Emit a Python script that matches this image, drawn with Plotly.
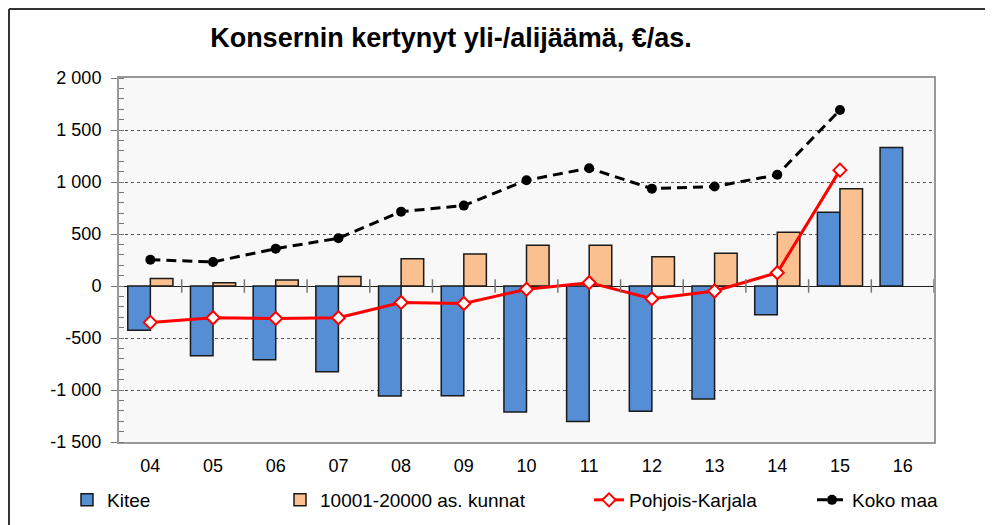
import plotly.graph_objects as go

years = ["04", "05", "06", "07", "08", "09", "10", "11", "12", "13", "14", "15", "16"]
kitee = [-425, -671, -710, -825, -1057, -1055, -1211, -1304, -1204, -1086, -276, 709, 1331]
kunnat = [73, 31, 57, 92, 262, 307, 391, 391, 282, 315, 516, 936, None]
pk = [-350, -305, -312, -305, -158, -168, -32, 32, -122, -48, 128, 1114, None]
koko = [253, 231, 359, 459, 715, 773, 1017, 1133, 936, 956, 1069, 1692, None]

y_tickvals = [-1500, -1000, -500, 0, 500, 1000, 1500, 2000]
y_ticktext = ["-1 500", "-1 000", "-500", "0", "500", "1 000", "1 500", "2 000"]

FONT = "Arial, Liberation Sans, sans-serif"
OFF = 8  # page body margin
W, H = 993 - OFF, 525 - OFF
L, R, T, B = 119 - OFF, 993 - 934, 78 - OFF, 525 - 442
pw, ph = W - L - R, H - T - B


def page_x(p):
    return (p - OFF) / W


def page_y(p):
    return 1 - (p - OFF) / H


def px2x(p):
    return (p - OFF - L) / pw


def py2y(p):
    return (H - B - (p - OFF)) / ph


fig = go.Figure()
fig.add_trace(go.Bar(x=years, y=kitee, name="Kitee", showlegend=True,
                     marker=dict(color="#558ED5", line=dict(color="#1a1a1a", width=1.5)),
                     legend="legend"))
fig.add_trace(go.Bar(x=years, y=kunnat, name="10001-20000 as. kunnat", showlegend=True,
                     marker=dict(color="#FAC090", line=dict(color="#1a1a1a", width=1.5)),
                     legend="legend2"))
fig.add_trace(go.Scatter(x=years, y=pk, name="Pohjois-Karjala", mode="lines+markers",
                         showlegend=True,
                         line=dict(color="#FF0000", width=3),
                         marker=dict(symbol="diamond", size=10, color="white",
                                     line=dict(color="#FF0000", width=2)),
                         legend="legend3"))
fig.add_trace(go.Scatter(x=years, y=koko, name="Koko maa", mode="lines+markers",
                         showlegend=True,
                         line=dict(color="black", width=3, dash="10px,6px"),
                         marker=dict(symbol="circle", size=10, color="black"),
                         legend="legend4"))

shapes = []
# category boundary ticks on the zero line
for i in range(len(years)):
    shapes.append(dict(type="line", xref="x", yref="y", x0=i + 0.5, x1=i + 0.5,
                       y0=-65, y1=65, line=dict(color="#777777", width=1.5)))
# outer frame (left and top edges)
shapes.append(dict(type="line", xref="paper", yref="paper",
                   x0=px2x(9), x1=px2x(9), y0=py2y(9), y1=py2y(540),
                   line=dict(color="#333333", width=2)))
shapes.append(dict(type="line", xref="paper", yref="paper",
                   x0=px2x(9), x1=px2x(1010), y0=py2y(9), y1=py2y(9),
                   line=dict(color="#333333", width=2)))

legend_common = dict(orientation="h", xref="container", yref="container",
                     yanchor="middle", y=page_y(500), xanchor="left",
                     font=dict(family=FONT, size=19, color="black"),
                     bgcolor="rgba(0,0,0,0)", itemwidth=30, traceorder="normal")

fig.update_layout(
    width=W, height=H,
    margin=dict(l=L, r=R, t=T, b=B, autoexpand=False),
    paper_bgcolor="white",
    plot_bgcolor="#F8F8F8",
    showlegend=True,
    barmode="group",
    bargap=0.28,
    bargroupgap=0,
    font=dict(family=FONT, size=18, color="black"),
    title=dict(text="<b>Konsernin kertynyt yli-/alijäämä, €/as.</b>",
               x=page_x(451), xanchor="center", y=page_y(38), yanchor="middle",
               font=dict(family=FONT, size=27, color="black")),
    shapes=shapes,
    legend=dict(x=page_x(107 - 40), **legend_common),
    legend2=dict(x=page_x(320 - 40), **legend_common),
    legend3=dict(x=page_x(629 - 40), **legend_common),
    legend4=dict(x=page_x(852 - 40), **legend_common),
    xaxis=dict(type="category", range=[-0.5, len(years) - 0.5],
               showline=True, linecolor="#999999", linewidth=2, mirror=True,
               ticks="", showgrid=False, tickfont=dict(size=18), ticklabelstandoff=6,
               automargin=False),
    yaxis=dict(range=[-1500, 2000], tickmode="array", tickvals=y_tickvals, ticktext=y_ticktext,
               showline=True, linecolor="#999999", linewidth=2, mirror=True,
               ticks="outside", ticklen=6, tickcolor="#777777", tickwidth=1,
               showgrid=True, gridcolor="#555555", gridwidth=1, griddash="dot",
               zeroline=True, zerolinecolor="#222222", zerolinewidth=1,
               tickfont=dict(size=18), ticklabelstandoff=6, automargin=False,
               minor=dict(tickmode="linear", tick0=0, dtick=100, ticks="inside",
                          ticklen=5, tickcolor="#777777", showgrid=False)),
)

fig.write_html("out.html")
